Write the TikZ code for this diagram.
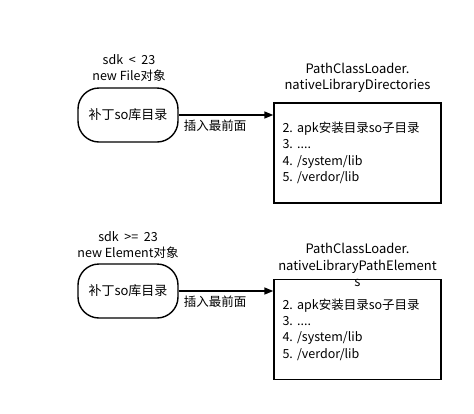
\documentclass[tikz,border=0pt]{standalone}
\usepackage{fontspec}
\setmainfont{Noto Sans CJK SC}
\frenchspacing
\usepackage{tikz}
\usetikzlibrary{arrows.meta,positioning,calc}

\begin{document}
\begin{tikzpicture}[
  x=1pt, y=-1pt,
  cond/.style={align=center, font=\fontsize{12.5}{16}\selectfont},
  patch/.style={rectangle, draw, line width=1.4pt, rounded corners=21pt,
    minimum width=100pt, minimum height=54pt, font=\fontsize{13}{16}\selectfont},
  dirbox/.style={rectangle, draw, line width=1.4pt, minimum width=167pt,
    minimum height=100pt, text width=150pt, inner xsep=8.5pt, align=left,
    font=\fontsize{12.5}{16.3}\selectfont},
  title/.style={align=center, font=\fontsize{13}{16.5}\selectfont},
  arr/.style={line width=1.6pt, -{Triangle[length=9pt,width=7pt]}},
  lbl/.style={font=\fontsize{12.5}{14}\selectfont}
]
\useasboundingbox (0,0) rectangle (474,413);

% sdk < 23
\node[cond] (cond1) at (129,68) {sdk \ < \ 23\\new File对象};
\node[patch] (patch1) at (128,115) {补丁so库目录};
\node[title] (title1) at (357.5,78) {PathClassLoader.\\nativeLibraryDirectories};
\node[dirbox] (dirs1) at (357.5,153) {2. apk安装目录so子目录\\3. ....\\4. /system/lib\\5. /verdor/lib};

% sdk >= 23
\node[cond] (cond2) at (128,245) {sdk \ >= \ 23\\new Element对象};
\node[patch] (patch2) at (128,291) {补丁so库目录};
\node[title] (title2) at (357.5,265) {PathClassLoader.\\nativeLibraryPathElement\\s};
\node[dirbox] (dirs2) at (357.5,329.5) {2. apk安装目录so子目录\\3. ....\\4. /system/lib\\5. /verdor/lib};

% Insert at front
\draw[arr] (patch1.east) -- node[lbl, pos=0, below right, xshift=1pt, yshift=-1pt]{插入最前面} (patch1.east -| dirs1.west);
\draw[arr] (patch2.east) -- node[lbl, pos=0, below right, xshift=1pt, yshift=-1pt]{插入最前面} (patch2.east -| dirs2.west);
\end{tikzpicture}
\end{document}
